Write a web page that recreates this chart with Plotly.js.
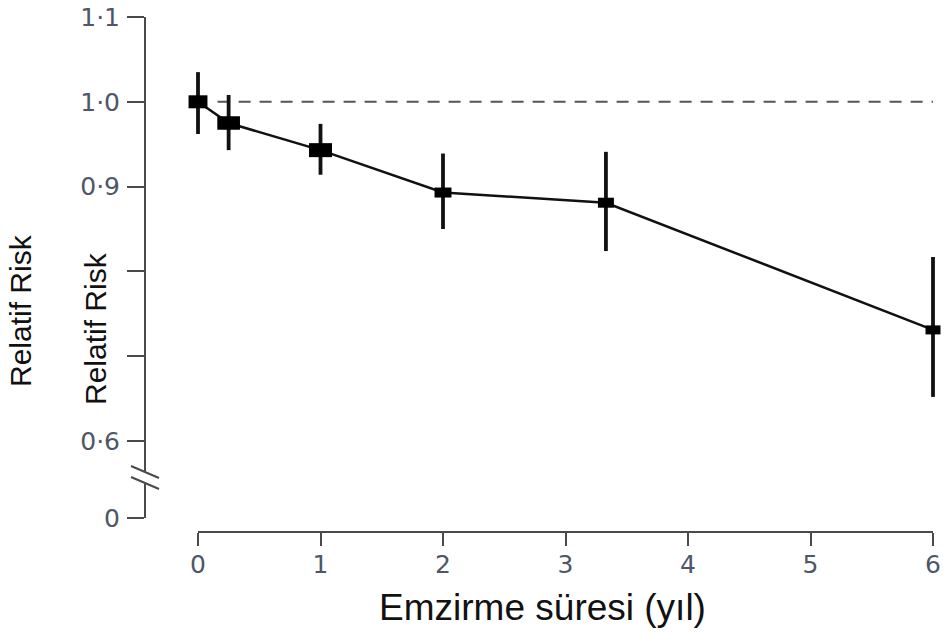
<!DOCTYPE html>
<html>
<head>
<meta charset="utf-8">
<script src="https://cdn.plot.ly/plotly-3.0.1.min.js"></script>
<style>
  html, body { margin: 0; padding: 0; background: #fff; }
  #chart { width: 947px; height: 635px; }
  .ytick text { letter-spacing: 6px; }
</style>
</head>
<body>
<div id="chart"></div>
<script>
// ---- data ----
const duration = [0, 0.25, 1, 2, 3.33, 6];          // breastfeeding duration (years)
const relRisk  = [1.0, 0.975, 0.943, 0.893, 0.881, 0.731];
const ciLower  = [0.962, 0.943, 0.914, 0.850, 0.824, 0.652];
const ciUpper  = [1.035, 1.008, 0.974, 0.939, 0.941, 0.817];
const refLevel = 1.0;
const xTickVals = [0, 1, 2, 3, 4, 5, 6];
const yTickVals = [0.6, 0.7, 0.8, 0.9, 1.0, 1.1];
const yTickText = ['0·6', '', '', '0·9', '1·0', '1·1'];
const yBreakLabel = '0';
const xTitle = 'Emzirme süresi (yıl)';
const yTitle = 'Relatif Risk';

// ---- geometry (layout only) ----
const W = 947, H = 635;
const M = {l: 145, r: 7, t: 17, b: 103};
const plotW = W - M.l - M.r, plotH = H - M.t - M.b;
const pxPerX = 122.5, x0px = 198;     // x = 0 position
const pxPerY = 848, yTopVal = 1.1;    // 1.1 at plot top
const yAxisBottomPx = 518;            // end of the drawn y axis ("0" tick)
const xAxisRightPx = 933;

const xRange = [-(x0px - M.l) / pxPerX, (W - M.r - x0px) / pxPerX];
const yRange = [yTopVal - plotH / pxPerY, yTopVal];
const yBreakVal = yTopVal - (yAxisBottomPx - M.t) / pxPerY;

const px2paperX = p => (p - M.l) / plotW;
const px2paperY = p => (M.t + plotH - p) / plotH;

const errPlus = ciUpper.map((u, i) => u - relRisk[i]);
const errMinus = relRisk.map((r, i) => r - ciLower[i]);

const trace = {
  type: 'scatter',
  mode: 'lines+markers',
  x: duration,
  y: relRisk,
  xaxis: 'x', yaxis: 'y',
  cliponaxis: false,
  line: {color: '#111', width: 2.5},
  marker: {
    symbol: 'line-ew',
    size: [13.5, 16.2, 16.4, 12.1, 11.4, 10.7],
    color: '#000', opacity: 1,
    line: {color: '#000', width: [13, 13.5, 14, 10, 10, 9]}
  },
  error_y: {
    type: 'data', symmetric: false,
    array: errPlus, arrayminus: errMinus,
    width: 0, thickness: 3.8, color: '#111'
  },
  hoverinfo: 'x+y',
  showlegend: false
};

// empty trace so that the display axes (x2 / y2) are drawn
const axisHolder = {
  type: 'scatter', mode: 'markers', x: [], y: [],
  xaxis: 'x2', yaxis: 'y2', showlegend: false, hoverinfo: 'skip'
};

const axisColor = '#4a4a4a';
const tickFont = {family: 'DejaVu Sans', size: 25, color: '#4e5668'};
const titleFont = {family: 'Liberation Sans, Arial', size: 30, color: '#111'};

const layout = {
  width: W, height: H,
  margin: M,
  paper_bgcolor: '#fff', plot_bgcolor: 'rgba(0,0,0,0)',
  showlegend: false,
  xaxis: {
    domain: [0, 1], range: xRange, fixedrange: true,
    showline: false, showgrid: false, zeroline: false,
    ticks: '', showticklabels: false,
    title: {
      text: xTitle,
      font: {family: 'Liberation Sans, Arial', size: 37, color: '#111'},
      standoff: 62
    }
  },
  yaxis: {
    domain: [0, 1], range: yRange,
    visible: false, fixedrange: true
  },
  xaxis2: {
    anchor: 'free', position: 0,
    domain: [px2paperX(x0px), px2paperX(xAxisRightPx)],
    range: [0, 6],
    tickmode: 'array', tickvals: xTickVals,
    showline: true, linecolor: axisColor, linewidth: 2,
    ticks: 'outside', ticklen: 13, tickwidth: 2, tickcolor: axisColor,
    tickfont: tickFont, ticklabelstandoff: -3,
    showgrid: false, zeroline: false
  },
  yaxis2: {
    anchor: 'free', position: 0, side: 'left',
    domain: [px2paperY(yAxisBottomPx), 1],
    range: [yBreakVal, yTopVal],
    tickmode: 'array',
    tickvals: [yBreakVal].concat(yTickVals),
    ticktext: [yBreakLabel].concat(yTickText),
    showline: true, linecolor: axisColor, linewidth: 2,
    ticks: 'outside', ticklen: 17, tickwidth: 2, tickcolor: axisColor,
    tickfont: tickFont, ticklabelstandoff: 2,
    showgrid: false, zeroline: false
  },
  shapes: [
    {type: 'line', xref: 'x', yref: 'y', x0: 0.16, x1: 6, y0: refLevel, y1: refLevel,
     line: {color: '#555', width: 2, dash: '12px,9px'}, layer: 'below'},
    {type: 'line', xref: 'paper', yref: 'paper',
     x0: px2paperX(145), x1: px2paperX(145), y0: px2paperY(471), y1: px2paperY(484),
     line: {color: '#fff', width: 5}, layer: 'above'},
    {type: 'line', xref: 'paper', yref: 'paper',
     x0: px2paperX(131), x1: px2paperX(159), y0: px2paperY(466), y1: px2paperY(478),
     line: {color: axisColor, width: 2}, layer: 'above'},
    {type: 'line', xref: 'paper', yref: 'paper',
     x0: px2paperX(131), x1: px2paperX(159), y0: px2paperY(477), y1: px2paperY(489),
     line: {color: axisColor, width: 2}, layer: 'above'}
  ],
  annotations: [
    {text: yTitle, textangle: -90, showarrow: false,
     xref: 'paper', yref: 'paper', x: px2paperX(20), y: px2paperY(311),
     xanchor: 'center', yanchor: 'middle', font: titleFont},
    {text: yTitle, textangle: -90, showarrow: false,
     xref: 'paper', yref: 'paper', x: px2paperX(95), y: px2paperY(329),
     xanchor: 'center', yanchor: 'middle', font: titleFont}
  ]
};

Plotly.newPlot('chart', [trace, axisHolder], layout, {staticPlot: true, displayModeBar: false});
</script>
</body>
</html>
